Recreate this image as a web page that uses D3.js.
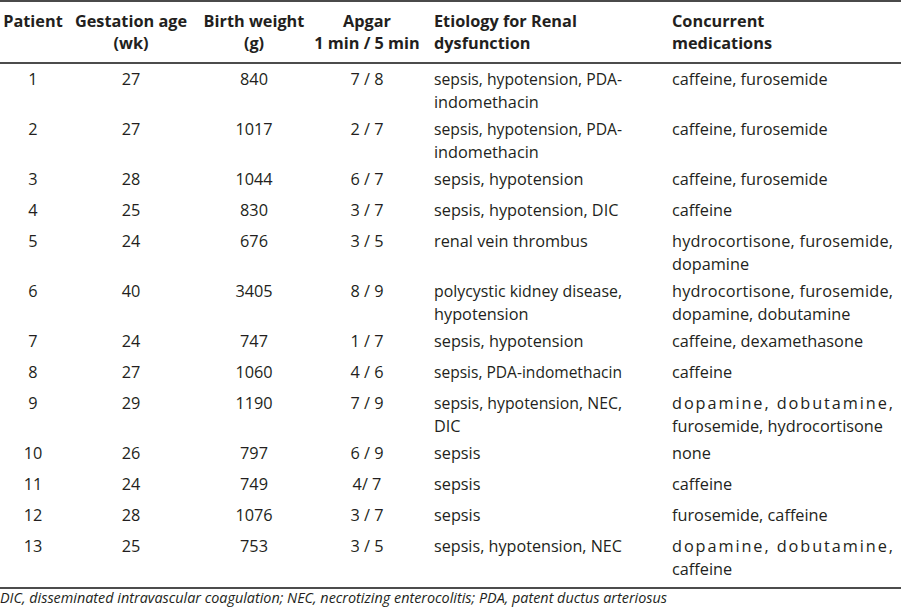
<!DOCTYPE html>
<html>
<head>
<meta charset="utf-8">
<script src="https://cdn.jsdelivr.net/npm/d3@7"></script>
<style>
  html, body { margin: 0; padding: 0; background: #fff; }
  svg { display: block; }
</style>
</head>
<body>
<script>
// ---- data ----
const headers = [
  ["Patient"],
  ["Gestation age", "(wk)"],
  ["Birth weight", "(g)"],
  ["Apgar", "1 min / 5 min"],
  ["Etiology for Renal", "dysfunction"],
  ["Concurrent", "medications"]
];
const patients = ["1","2","3","4","5","6","7","8","9","10","11","12","13"];
const gestationAge = [27, 27, 28, 25, 24, 40, 24, 27, 29, 26, 24, 28, 25];
const birthWeight = [840, 1017, 1044, 830, 676, 3405, 747, 1060, 1190, 797, 749, 1076, 753];
const apgar = ["7 / 8","2 / 7","6 / 7","3 / 7","3 / 5","8 / 9","1 / 7","4 / 6","7 / 9","6 / 9","4/ 7","3 / 7","3 / 5"];
const etiology = [
  ["sepsis, hypotension, PDA-", "indomethacin"],
  ["sepsis, hypotension, PDA-", "indomethacin"],
  ["sepsis, hypotension"],
  ["sepsis, hypotension, DIC"],
  ["renal vein thrombus"],
  ["polycystic kidney disease,", "hypotension"],
  ["sepsis, hypotension"],
  ["sepsis, PDA-indomethacin"],
  ["sepsis, hypotension, NEC,", "DIC"],
  ["sepsis"],
  ["sepsis"],
  ["sepsis"],
  ["sepsis, hypotension, NEC"]
];
const medications = [
  ["caffeine, furosemide"],
  ["caffeine, furosemide"],
  ["caffeine, furosemide"],
  ["caffeine"],
  ["hydrocortisone, furosemide,", "dopamine"],
  ["hydrocortisone, furosemide,", "dopamine, dobutamine"],
  ["caffeine, dexamethasone"],
  ["caffeine"],
  ["dopamine, dobutamine,", "furosemide, hydrocortisone"],
  ["none"],
  ["caffeine"],
  ["furosemide, caffeine"],
  ["dopamine, dobutamine,", "caffeine"]
];
const footnote = "DIC, disseminated intravascular coagulation; NEC, necrotizing enterocolitis; PDA, patent ductus arteriosus";

// ---- layout ----
const W = 901, H = 611;
const FONT = "'Open Sans', 'Noto Sans', sans-serif";
const FS = 16.3;
const colCenters = [33, 131, 254, 367];
const colLefts = [434, 672];
const colWidths = [188, 223];
const justifyMode = ["words", "letters"];
const lineGap = 22.5;

const svg = d3.select("body").append("svg")
  .attr("width", W).attr("height", H)
  .attr("font-family", FONT)
  .style("fill", "#231f20");

// rules
svg.append("line").attr("x1", 0).attr("x2", W).attr("y1", 1).attr("y2", 1)
  .attr("stroke", "#4a4a4a").attr("stroke-width", 2.2);
svg.append("line").attr("x1", 0).attr("x2", W).attr("y1", 63).attr("y2", 63)
  .attr("stroke", "#111").attr("stroke-width", 1.4);
svg.append("line").attr("x1", 0).attr("x2", W).attr("y1", 588).attr("y2", 588)
  .attr("stroke", "#111").attr("stroke-width", 1.4);

// header
const hy = [27, 49];
headers.forEach((lines, i) => {
  lines.forEach((txt, j) => {
    const t = svg.append("text")
      .attr("y", hy[j])
      .attr("font-size", FS)
      .attr("font-weight", "bold")
      .text(txt);
    if (i < 4) t.attr("x", colCenters[i]).attr("text-anchor", "middle");
    else t.attr("x", colLefts[i - 4]);
  });
});

// row y positions via cumulative layout
const nLines = patients.map((_, i) => Math.max(etiology[i].length, medications[i].length));
const rowY = [];
let y = 85;
nLines.forEach((n) => { rowY.push(y); y += 31 + 19 * (n - 1); });
const yScale = d3.scaleOrdinal().domain(patients).range(rowY);

function drawLine(g, text, x, yy, width, justify, mode) {
  const t = g.append("text").attr("x", x).attr("y", yy).attr("font-size", FS).text(text);
  const natural = t.node().getComputedTextLength();
  if (natural > width) {
    t.attr("textLength", width).attr("lengthAdjust", "spacingAndGlyphs");
  } else if (justify && mode === "letters") {
    t.attr("textLength", width - 2).attr("lengthAdjust", "spacing");
  } else if (justify) {
    const words = text.split(" ");
    if (words.length < 2) return;
    t.text(null);
    const widths = words.map(w => {
      const tmp = g.append("text").attr("font-size", FS).text(w);
      const wd = tmp.node().getComputedTextLength();
      tmp.remove();
      return wd;
    });
    const gap = (width - d3.sum(widths)) / (words.length - 1);
    let cx = x;
    words.forEach((w, k) => {
      t.append("tspan").attr("x", cx).text(w);
      cx += widths[k] + gap;
    });
  }
}

const body = svg.append("g");
patients.forEach((p, i) => {
  const yy = yScale(p);
  const centered = [p, String(gestationAge[i]), String(birthWeight[i]), apgar[i]];
  centered.forEach((txt, c) => {
    body.append("text").attr("x", colCenters[c]).attr("y", yy)
      .attr("text-anchor", "middle").attr("font-size", FS).text(txt);
  });
  [etiology[i], medications[i]].forEach((lines, c) => {
    lines.forEach((txt, j) => {
      const justify = lines.length > 1 && j < lines.length - 1;
      drawLine(body, txt, colLefts[c], yy + j * lineGap, colWidths[c], justify, justifyMode[c]);
    });
  });
});

// footnote
const fn = svg.append("text").attr("x", 0).attr("y", 603)
  .attr("font-size", 14.5).attr("font-style", "italic").text(footnote);
fn.attr("textLength", 667).attr("lengthAdjust", "spacingAndGlyphs");
</script>
</body>
</html>
